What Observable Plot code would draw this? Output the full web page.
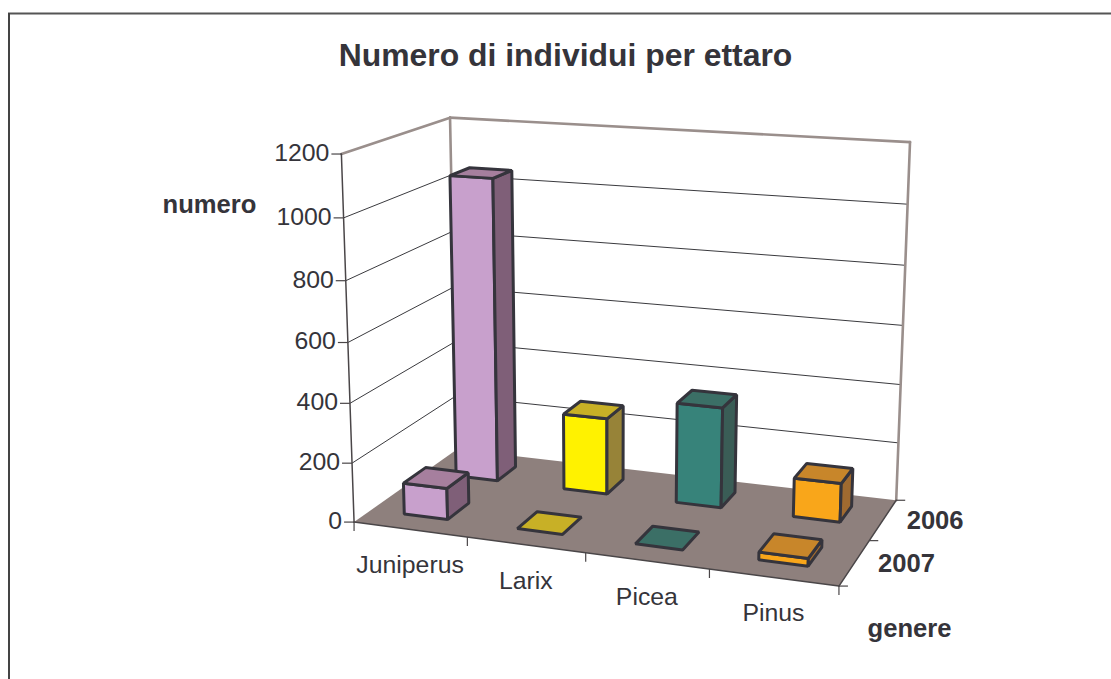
<!DOCTYPE html>
<html>
<head>
<meta charset="utf-8">
<script src="https://cdn.jsdelivr.net/npm/d3@7"></script>
<script src="https://cdn.jsdelivr.net/npm/@observablehq/plot@0.6"></script>
<style>html,body{margin:0;padding:0;background:#fff;overflow:hidden}svg{display:block}</style>
</head>
<body>
<div id="chart"></div>
<script>
// ---- data ----
const titleText = "Numero di individui per ettaro";
const genera = ["Juniperus", "Larix", "Picea", "Pinus"];
const years = ["2006", "2007"];
const values2006 = [1050, 264, 343, 131];
const values2007 = [106, 0, 0, 25];
const valueTicks = [0, 200, 400, 600, 800, 1000, 1200];
const valueMax = 1200;
const frontColors = ["#c8a0cc", "#fff200", "#37837a", "#f9a61a"];
const sideColors  = ["#7f5f78", "#978338", "#3a5d56", "#a06a30"];
const topColors   = ["#a67f9e", "#c8b026", "#3b6f66", "#c8862a"];

// ---- camera of the 3-D view: fitted from where the box's corners sit ----
// [genus axis 0-1, depth axis 0-1, height 0-1, screen x, screen y]
const anchors = [
  [0,0,0,355,521],[1,0,0,837,586],[1,1,0,896,498],[0,1,0,455,449],
  [0,0,1,340,153],[0,1,1,451,117],[1,1,1,909,142],
  [0,0,.5,347.5,341],[0,1,.5,452,288],[1,1,.5,903,325],
  [.25,0,0,467,537],[.5,0,0,586,552],[.75,0,0,708,570],[1,.5,0,870,540]
];
function fitCamera(pts) {
  const rows = [], rhs = [];
  for (const [u,d,h,X,Y] of pts) {
    const x = X/1000, y = Y/1000;
    rows.push([u,d,h,1,0,0,0,0,-x*u,-x*d,-x*h]); rhs.push(x);
    rows.push([0,0,0,0,u,d,h,1,-y*u,-y*d,-y*h]); rhs.push(y);
  }
  const n = 11;
  const A = d3.range(n).map(i => d3.range(n+1).map(j =>
    d3.sum(rows, (r,k) => r[i]*(j<n ? r[j] : rhs[k]))));
  for (let c=0;c<n;c++){
    let p=c; for(let r=c+1;r<n;r++) if(Math.abs(A[r][c])>Math.abs(A[p][c])) p=r;
    [A[c],A[p]]=[A[p],A[c]];
    for(let r=0;r<n;r++) if(r!==c){const f=A[r][c]/A[c][c]; for(let j=c;j<=n;j++) A[r][j]-=f*A[c][j];}
  }
  return A.map((r,i)=>r[n]/r[i]);
}
const P = fitCamera(anchors);
function project(u,d,v){
  const h=v/valueMax, w=P[8]*u+P[9]*d+P[10]*h+1;
  return {x:1000*(P[0]*u+P[1]*d+P[2]*h+P[3])/w, y:1000*(P[4]*u+P[5]*d+P[6]*h+P[7])/w};
}

// ---- polygons ----
const barHalfU = 0.0485;
const rowCentre = [.765, .26], rowHalf = [.1, .105];
const polys = [];
let pid = 0;
function face(corners, fill){
  const id = pid++;
  for (const [u,d,v] of corners) polys.push({poly:id, fill, ...project(u,d,v)});
}
function bar(g, row, value){
  const uc=(g+.5)/genera.length-.002;
  const u0=uc-barHalfU, u1=uc+barHalfU, d0=rowCentre[row]-rowHalf[row], d1=rowCentre[row]+rowHalf[row];
  if (value>0){
    face([[u0,d0,0],[u1,d0,0],[u1,d0,value],[u0,d0,value]], frontColors[g]);
    face([[u1,d0,0],[u1,d1,0],[u1,d1,value],[u1,d0,value]], sideColors[g]);
  }
  face([[u0,d0,value],[u1,d0,value],[u1,d1,value],[u0,d1,value]], topColors[g]);
}
genera.forEach((_,g)=>bar(g,0,values2006[g]));
genera.forEach((_,g)=>bar(g,1,values2007[g]));

const floor = [[0,0],[1,0],[1,1],[0,1]].map(([u,d])=>project(u,d,0));
const seg = (a,b,k)=>[{...a,k},{...b,k}];
const wallGray = [
  ...seg(project(0,0,valueMax),project(0,1,valueMax),"a"),
  ...seg(project(0,1,valueMax),project(1,1,valueMax),"b"),
  ...seg(project(0,1,valueMax),project(0,1,0),"c"),
  ...seg(project(1,1,valueMax),project(1,1,0),"d")
];
const gridLines = valueTicks.filter(v=>v>0&&v<valueMax).flatMap(v=>[
  ...seg(project(0,0,v),project(0,1,v),"l"+v),
  ...seg(project(0,1,v),project(1,1,v),"b"+v)
]);
const axisLines = [
  ...seg(project(0,0,valueMax),project(0,0,0),"y"),
  ...seg(project(0,0,0),project(1,0,0),"x"),
  ...seg(project(1,0,0),project(1,1,0),"z")
];
const valueTickData = valueTicks.map(v=>({v,...project(0,0,v)}));
const genusTickData = d3.range(genera.length+1).map(i=>project(i/genera.length,0,0));
const depthTickData = d3.range(years.length+1).map(i=>project(1,i/years.length,0));
const genusLabels = genera.map((g,i)=>({g,...project((i+.5)/genera.length,0,0)}));
const yearLabels = years.map((t,i)=>({t,...project(1,i===0?.75:.25,0)}));

const ink="#35343a", font="Liberation Sans, Arial, sans-serif";
const chart = Plot.plot({
  width:1111, height:679, margin:0,
  x:{type:"identity",axis:null}, y:{type:"identity",axis:null}, color:{type:"identity"},
  style:{background:"#fff",fontFamily:font},
  marks:[
    Plot.ruleY([13],{x1:8,x2:1111,stroke:"#555",strokeWidth:2}),
    Plot.ruleX([8.5],{y1:13,y2:679,stroke:"#444",strokeWidth:2}),
    Plot.line(gridLines,{x:"x",y:"y",z:"k",stroke:"#3a3a3e",strokeWidth:1}),
    Plot.line(wallGray,{x:"x",y:"y",z:"k",stroke:"#9a8f8c",strokeWidth:2.6}),
    Plot.line(floor,{x:"x",y:"y",fill:"#8e807d",stroke:"none",curve:"linear-closed"}),
    Plot.line(axisLines,{x:"x",y:"y",z:"k",stroke:"#4a4648",strokeWidth:1.5}),
    Plot.link(valueTickData,{x1:d=>d.x-10,x2:"x",y1:"y",y2:"y",stroke:"#4a4648",strokeWidth:1.2}),
    Plot.link(genusTickData,{x1:"x",x2:"x",y1:"y",y2:d=>d.y+9,stroke:"#4a4648",strokeWidth:1.2}),
    Plot.link(depthTickData,{x1:"x",x2:d=>d.x+9,y1:"y",y2:"y",stroke:"#4a4648",strokeWidth:1.2}),
    Plot.line(polys,{x:"x",y:"y",z:"poly",fill:"fill",stroke:"#35343c",strokeWidth:3,curve:"linear-closed",strokeLinejoin:"miter"}),
    Plot.text(valueTickData,{x:"x",y:"y",text:d=>String(d.v),dx:-12,dy:-1,textAnchor:"end",fontSize:24.8,fill:ink}),
    Plot.text(genusLabels,{x:"x",y:"y",text:"g",dy:36,fontSize:24.8,fill:ink}),
    Plot.text(yearLabels,{x:"x",y:"y",text:"t",dx:52,dy:1,fontSize:25.6,fontWeight:"bold",fill:ink}),
    Plot.text([titleText],{x:()=>565,y:()=>55,text:d=>d,fontSize:31.9,fontWeight:"bold",fill:ink}),
    Plot.text(["numero"],{x:()=>209,y:()=>204,text:d=>d,fontSize:25.6,fontWeight:"bold",fill:ink}),
    Plot.text(["genere"],{x:()=>909,y:()=>628,text:d=>d,fontSize:25.6,fontWeight:"bold",fill:ink})
  ]
});
document.getElementById("chart").appendChild(chart);
</script>
</body>
</html>
